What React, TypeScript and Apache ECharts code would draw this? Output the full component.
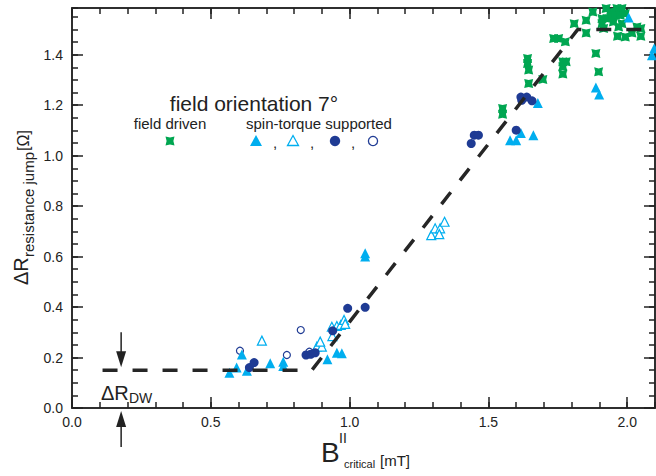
import React, { useEffect, useRef } from "react";
import * as echarts from "echarts";

const X_MIN = 0;
const X_MAX = 2.1;
const Y_MIN = 0;
const Y_MAX = 1.585;
const xMajorTicks = [0, 0.5, 1.0, 1.5, 2.0];
const yMajorInterval = 0.2;
const yMinorInterval = 0.05;
const xMinorInterval = 0.1;

// field driven (green)
const fieldDriven: [number, number][] = [
  [1.551, 1.187], [1.551, 1.164], [1.641, 1.385], [1.641, 1.365], [1.645, 1.339],
  [1.645, 1.286], [1.696, 1.302], [1.735, 1.464], [1.753, 1.464], [1.777, 1.451],
  [1.768, 1.372], [1.768, 1.352], [1.768, 1.323], [1.78, 1.372], [1.809, 1.523],
  [1.852, 1.536], [1.852, 1.486], [1.876, 1.569], [1.887, 1.405], [1.897, 1.332],
  [1.924, 1.583], [1.939, 1.569], [1.963, 1.583], [1.981, 1.583], [1.909, 1.543],
  [1.909, 1.523], [1.927, 1.543], [1.945, 1.55], [1.957, 1.556], [1.975, 1.556],
  [1.993, 1.563], [1.915, 1.504], [1.969, 1.51], [1.965, 1.473], [1.993, 1.47],
  [2.017, 1.486], [2.035, 1.51], [2.049, 1.504], [2.049, 1.473], [1.981, 1.523],
  [1.95, 1.53],
];

// spin-torque supported, filled triangles
const stFilledTri: [number, number][] = [
  [0.567, 0.14], [0.593, 0.16], [0.612, 0.212], [0.63, 0.148], [0.714, 0.177],
  [0.761, 0.183], [0.761, 0.166], [0.92, 0.193], [0.954, 0.219], [0.972, 0.217],
  [1.056, 0.613], [1.056, 0.6], [1.578, 1.061], [1.6, 1.061], [1.617, 1.09],
  [1.662, 1.081], [1.678, 1.209], [1.887, 1.27], [1.899, 1.242], [2.005, 1.547],
  [2.089, 1.398], [2.097, 1.425],
];

// spin-torque supported, open triangles
const stOpenTri: [number, number][] = [
  [0.684, 0.267], [0.882, 0.243], [0.9, 0.243], [0.894, 0.263], [0.936, 0.322],
  [0.954, 0.325], [0.968, 0.329], [0.98, 0.349], [0.984, 0.333], [0.938, 0.285],
  [1.294, 0.685], [1.308, 0.712], [1.326, 0.712], [1.323, 0.689], [1.342, 0.738],
];

// spin-torque supported, filled circles
const stFilledCircle: [number, number][] = [
  [0.639, 0.16], [0.656, 0.18], [0.843, 0.21], [0.86, 0.213], [0.876, 0.219],
  [0.939, 0.306], [0.993, 0.395], [1.056, 0.399], [1.438, 1.048], [1.449, 1.081],
  [1.464, 1.081], [1.6, 1.101], [1.617, 1.232], [1.62, 1.219], [1.638, 1.232],
  [1.657, 1.217],
];

// spin-torque supported, open circles
const stOpenCircle: [number, number][] = [
  [0.605, 0.227], [0.824, 0.309], [0.774, 0.21], [0.855, 0.223],
];

// dashed guide
const guideLine: [number, number][] = [
  [0.11, 0.15], [0.864, 0.15], [1.822, 1.5], [2.1, 1.5],
];
const dwLevel = 0.15;
const arrowX = 0.177;

const GREEN = "#00a651";
const CYAN = "#00aeef";
const NAVY = "#1f3b94";
const INK = "#222222";
const FONT = "'Liberation Sans', Arial, Helvetica, sans-serif";
const GREEN_SYMBOL = "path://M0,0L5,1.2L10,0L8.8,5L10,10L5,8.8L0,10L1.2,5Z";

function xAxisDef(position: string, interval: number, len: number, labels: boolean) {
  return {
    type: "value",
    position,
    min: X_MIN,
    max: X_MAX,
    interval,
    axisLine: { show: true, onZero: false, lineStyle: { color: INK, width: 1.5 } },
    axisTick: { show: true, inside: true, length: len, lineStyle: { color: INK, width: 1.5 } },
    axisLabel: labels
      ? {
          show: true,
          margin: 7,
          color: INK,
          fontSize: 14,
          fontFamily: FONT,
          showMaxLabel: false,
          formatter: (v: number) => (xMajorTicks.some((t) => Math.abs(t - v) < 1e-6) ? v.toFixed(1) : ""),
        }
      : { show: false },
    splitLine: { show: false },
  };
}

function yAxisDef(position: string, interval: number, len: number, labels: boolean) {
  return {
    type: "value",
    position,
    min: Y_MIN,
    max: Y_MAX,
    interval,
    axisLine: { show: true, onZero: false, lineStyle: { color: INK, width: 1.5 } },
    axisTick: { show: true, inside: true, length: len, lineStyle: { color: INK, width: 1.5 } },
    axisLabel: labels
      ? {
          show: true,
          margin: 9,
          color: INK,
          fontSize: 14,
          fontFamily: FONT,
          showMaxLabel: false,
          formatter: (v: number) => v.toFixed(1),
        }
      : { show: false },
    splitLine: { show: false },
  };
}

export default function App() {
  const ref = useRef<HTMLDivElement>(null);

  useEffect(() => {
    if (!ref.current) return;
    const chart = echarts.init(ref.current, undefined, { renderer: "svg" });
    const option: any = {
      animation: false,
      backgroundColor: "#ffffff",
      grid: { left: 72, right: 1, top: 8, bottom: 68, containLabel: false, outerBoundsMode: "none" },
      xAxis: [
        xAxisDef("bottom", 0.5, 11, true),
        xAxisDef("bottom", xMinorInterval, 6, false),
        xAxisDef("top", 0.5, 11, false),
        xAxisDef("top", xMinorInterval, 6, false),
      ],
      yAxis: [
        yAxisDef("left", yMajorInterval, 11, true),
        yAxisDef("left", yMinorInterval, 6, false),
        yAxisDef("right", yMajorInterval, 11, false),
        yAxisDef("right", yMinorInterval, 6, false),
      ],
      series: [
        {
          type: "scatter",
          name: "spin-torque open circle",
          data: stOpenCircle,
          symbol: "circle",
          symbolSize: 7,
          itemStyle: { color: "#ffffff", borderColor: NAVY, borderWidth: 1.2, opacity: 1 },
          z: 2,
        },
        {
          type: "scatter",
          name: "spin-torque open triangle",
          data: stOpenTri,
          symbol: "triangle",
          symbolSize: 9,
          itemStyle: { color: "#ffffff", borderColor: CYAN, borderWidth: 1.2, opacity: 1 },
          z: 2,
        },
        {
          type: "scatter",
          name: "spin-torque filled triangle",
          data: stFilledTri,
          symbol: "triangle",
          symbolSize: 10,
          itemStyle: { color: CYAN, opacity: 1 },
          z: 3,
        },
        {
          type: "scatter",
          name: "spin-torque filled circle",
          data: stFilledCircle,
          symbol: "circle",
          symbolSize: 9,
          itemStyle: { color: NAVY, opacity: 1 },
          z: 3,
        },
        {
          type: "scatter",
          name: "field driven",
          data: fieldDriven,
          symbol: GREEN_SYMBOL,
          symbolSize: 9,
          itemStyle: { color: GREEN, opacity: 1 },
          z: 2,
        },
        {
          type: "line",
          name: "guide",
          data: guideLine,
          symbol: "none",
          lineStyle: { color: "#262626", width: 3.5, type: [15, 15] },
          z: 5,
        },
      ],
    };
    chart.setOption(option);

    const p = chart.convertToPixel({ xAxisIndex: 0, yAxisIndex: 0 }, [arrowX, dwLevel]) as number[];
    const p0 = chart.convertToPixel({ xAxisIndex: 0, yAxisIndex: 0 }, [arrowX, 0]) as number[];
    const ax = p[0];
    const downTip = p[1] - 3;
    const upTip = p0[1] + 3;

    const legendY = 141;
    const graphic: any[] = [
      // y axis title
      { type: "text", x: 21, y: 285, rotation: Math.PI / 2, style: { text: "ΔR", font: `20px ${FONT}`, fill: INK, align: "left", verticalAlign: "middle" } },
      { type: "text", x: 28, y: 257, rotation: Math.PI / 2, style: { text: "resistance jump", font: `15px ${FONT}`, fill: INK, align: "left", verticalAlign: "middle" } },
      { type: "text", x: 23, y: 151, rotation: Math.PI / 2, style: { text: "[Ω]", font: `16px ${FONT}`, fill: INK, align: "left", verticalAlign: "middle" } },
      // x axis title
      { type: "text", x: 321, y: 466, style: { text: "B", font: `28px ${FONT}`, fill: INK, align: "left", verticalAlign: "bottom" } },
      { type: "text", x: 339, y: 445, style: { text: "II", font: `14px ${FONT}`, fill: INK, align: "left", verticalAlign: "bottom" } },
      { type: "text", x: 344, y: 469, style: { text: "critical", font: `11px ${FONT}`, fill: INK, align: "left", verticalAlign: "bottom" } },
      { type: "text", x: 380, y: 468, style: { text: "[mT]", font: `15px ${FONT}`, fill: INK, align: "left", verticalAlign: "bottom" } },
      // legend
      { type: "text", x: 254, y: 103, style: { text: "field orientation 7°", font: `21px ${FONT}`, fill: INK, align: "center", verticalAlign: "middle" } },
      { type: "text", x: 170, y: 123, style: { text: "field driven", font: `15px ${FONT}`, fill: INK, align: "center", verticalAlign: "middle" } },
      { type: "text", x: 319, y: 123, style: { text: "spin-torque supported", font: `15px ${FONT}`, fill: INK, align: "center", verticalAlign: "middle" } },
      { type: "polygon", shape: { points: [[165.5, 136.5], [170, 137.6], [174.5, 136.5], [173.4, 141], [174.5, 145.5], [170, 144.4], [165.5, 145.5], [166.6, 141]] }, style: { fill: GREEN } },
      { type: "polygon", shape: { points: [[256, legendY - 6], [262, legendY + 5], [250, legendY + 5]] }, style: { fill: CYAN } },
      { type: "text", x: 275, y: legendY + 1, style: { text: ",", font: `15px ${FONT}`, fill: INK, align: "center", verticalAlign: "middle" } },
      { type: "polygon", shape: { points: [[293, legendY - 5.5], [298.5, legendY + 4.5], [287.5, legendY + 4.5]] }, style: { fill: "#fff", stroke: CYAN, lineWidth: 1.3 } },
      { type: "text", x: 312, y: legendY + 1, style: { text: ",", font: `15px ${FONT}`, fill: INK, align: "center", verticalAlign: "middle" } },
      { type: "circle", shape: { cx: 335, cy: legendY, r: 5.2 }, style: { fill: NAVY } },
      { type: "text", x: 353, y: legendY + 1, style: { text: ",", font: `15px ${FONT}`, fill: INK, align: "center", verticalAlign: "middle" } },
      { type: "circle", shape: { cx: 373, cy: legendY, r: 4.6 }, style: { fill: "#fff", stroke: NAVY, lineWidth: 1.3 } },
      // ΔR_DW annotation
      { type: "line", shape: { x1: ax, y1: downTip - 35, x2: ax, y2: downTip - 10 }, style: { stroke: INK, lineWidth: 1.5 } },
      { type: "polygon", shape: { points: [[ax, downTip], [ax - 5, downTip - 16], [ax + 5, downTip - 16]] }, style: { fill: INK } },
      { type: "line", shape: { x1: ax, y1: upTip + 10, x2: ax, y2: upTip + 36 }, style: { stroke: INK, lineWidth: 1.5 } },
      { type: "polygon", shape: { points: [[ax, upTip], [ax - 5, upTip + 16], [ax + 5, upTip + 16]] }, style: { fill: INK } },
      { type: "text", x: 101, y: 393, style: { text: "ΔR", font: `20px ${FONT}`, fill: INK, align: "left", verticalAlign: "middle" } },
      { type: "text", x: 129, y: 398, style: { text: "DW", font: `14px ${FONT}`, fill: INK, align: "left", verticalAlign: "middle" } },
    ];
    chart.setOption({ graphic });

    return () => chart.dispose();
  }, []);

  return <div ref={ref} style={{ position: "fixed", left: 0, top: 0, width: 656, height: 476 }} />;
}
